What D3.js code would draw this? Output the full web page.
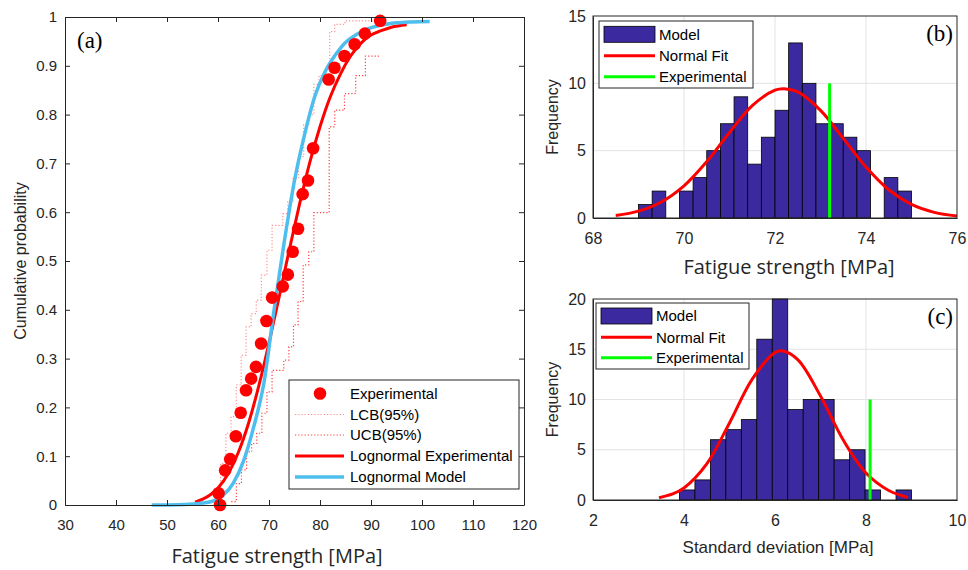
<!DOCTYPE html>
<html><head><meta charset="utf-8">
<script src="https://cdn.jsdelivr.net/npm/d3@7"></script>
<style>
body{margin:0;background:#fff}
svg{display:block}
</style>
</head><body>
<svg id="chart" width="968" height="570"></svg>
<script>
// ---------- Panel (a) data ----------
const expX = [60.4, 60.1, 61.4, 62.4, 63.5, 64.45, 65.5, 66.5, 67.45, 68.45, 69.5, 70.6, 72.7, 73.7, 74.65, 75.7, 76.6, 77.65, 78.65, 81.7, 82.85, 84.8, 86.8, 88.8, 91.8];
const expP = [0.0, 0.024, 0.071, 0.094, 0.141, 0.189, 0.235, 0.259, 0.283, 0.331, 0.377, 0.425, 0.448, 0.472, 0.519, 0.566, 0.637, 0.665, 0.731, 0.872, 0.896, 0.920, 0.944, 0.966, 0.992];

const lcbX = [59.5, 60.5, 61.55, 62.55, 63.6, 64.55, 65.5, 66.5, 67.5, 68.5, 69.6, 70.6, 72.7, 73.7, 74.7, 75.8, 76.8, 77.8, 78.8, 79.8, 81.9, 82.9, 84.9, 91.9];
const lcbP = [0.02, 0.085, 0.147, 0.181, 0.246, 0.307, 0.365, 0.392, 0.42, 0.471, 0.522, 0.573, 0.597, 0.621, 0.669, 0.714, 0.779, 0.80, 0.862, 0.88, 0.97, 0.985, 0.992, 0.992];

const ucbX = [62.6, 63.6, 64.6, 65.6, 66.6, 67.6, 68.6, 69.6, 70.6, 72.9, 73.9, 74.8, 75.7, 76.7, 77.8, 78.8, 81.8, 82.9, 84.8, 87.0, 88.9, 91.9];
const ucbP = [0.007, 0.044, 0.072, 0.109, 0.126, 0.147, 0.188, 0.232, 0.276, 0.297, 0.324, 0.369, 0.417, 0.492, 0.519, 0.599, 0.775, 0.809, 0.843, 0.88, 0.92, 0.92];

const logExpX = [55.5, 57, 58.5, 60, 62, 64, 66, 68, 70, 72, 74, 76, 78, 80, 82, 84, 86, 88, 90, 92, 94, 97];
const logExpP = [0.006, 0.012, 0.021, 0.035, 0.064, 0.108, 0.168, 0.244, 0.332, 0.427, 0.524, 0.617, 0.702, 0.775, 0.836, 0.883, 0.920, 0.946, 0.963, 0.972, 0.979, 0.984];

const logModX = [47, 52, 55, 57, 59, 61, 63, 65, 67, 69, 71, 73, 75, 77, 79, 81, 83, 85, 87, 89, 91, 93, 95, 98, 101.5];
const logModP = [0, 0.0005, 0.002, 0.004, 0.008, 0.02, 0.045, 0.09, 0.16, 0.25, 0.40, 0.54, 0.665, 0.76, 0.838, 0.888, 0.922, 0.948, 0.963, 0.974, 0.981, 0.985, 0.988, 0.99, 0.991];

const xTicksA = [30, 40, 50, 60, 70, 80, 90, 100, 110, 120];
const yTicksA = [0, 0.1, 0.2, 0.3, 0.4, 0.5, 0.6, 0.7, 0.8, 0.9, 1];
const legendA = ["Experimental", "LCB(95%)", "UCB(95%)", "Lognormal Experimental", "Lognormal Model"];

// ---------- Panel (b) data ----------
const edgesB = [69.0, 69.3, 69.6, 69.9, 70.2, 70.5, 70.8, 71.1, 71.4, 71.7, 72.0, 72.3, 72.6, 72.9, 73.2, 73.5, 73.8, 74.1, 74.4, 74.7, 75.0];
const countsB = [1, 2, 0, 2, 3, 5, 7, 9, 4, 6, 8, 13, 10, 7, 7, 6, 5, 0, 3, 2];
const fitBX = [68.5, 69.0, 69.5, 70.0, 70.5, 71.0, 71.5, 72.0, 72.2, 72.5, 73.0, 73.5, 74.0, 74.5, 75.0, 75.5, 76.0];
const fitBY = [0.19, 0.51, 1.19, 2.39, 4.19, 6.35, 8.34, 9.49, 9.6, 9.36, 7.99, 5.91, 3.79, 2.10, 1.01, 0.42, 0.15];
const expB = [73.2, 10];
const xTicksB = [68, 70, 72, 74, 76];
const yTicksB = [0, 5, 10, 15];

// ---------- Panel (c) data ----------
const edgesC = [3.90, 4.24, 4.58, 4.92, 5.26, 5.60, 5.94, 6.28, 6.62, 6.96, 7.30, 7.64, 7.98, 8.32, 8.66, 9.00];
const countsC = [1, 2, 6, 7, 8, 16, 20, 9, 10, 10, 4, 5, 1, 0, 1];
const fitCX = [3.45, 3.75, 4.0, 4.5, 5.0, 5.5, 6.0, 6.15, 6.5, 7.0, 7.5, 8.0, 8.5, 8.92];
const fitCY = [0.22, 0.6, 1.2, 3.6, 7.67, 12.02, 14.68, 14.85, 13.97, 10.35, 5.97, 2.68, 0.94, 0.25];
const expC = [8.09, 10];
const xTicksC = [2, 4, 6, 8, 10];
const yTicksC = [0, 5, 10, 15, 20];
const legendH = ["Model", "Normal Fit", "Experimental"];

// ---------- styles ----------
const AX = "#262626";
const SANS = "'Liberation Sans', Arial, sans-serif";
const HUM = "'Open Sans', 'Noto Sans', sans-serif";
const SERIF = "'Liberation Serif', 'Times New Roman', serif";
const RED = "#ff0000", BLUE = "#4dbeee", GREEN = "#00ff00", BAR = "#3b2a9f";
const LCBC = "#ff9090", UCBC = "#ff4040";

const svg = d3.select("#chart");

function styleAxis(g, fs) {
  g.attr("font-family", SANS).attr("font-size", fs);
  g.select(".domain").attr("stroke", AX).attr("stroke-width", 1);
  g.selectAll(".tick line").attr("stroke", AX);
  g.selectAll(".tick text").attr("fill", AX);
}

// ================= Panel (a) =================
const A = {l: 65, r: 524, t: 17, b: 505};
const xA = d3.scaleLinear().domain([30, 120]).range([A.l, A.r]);
const yA = d3.scaleLinear().domain([0, 1]).range([A.b, A.t]);
const gA = svg.append("g");

const stair = (xs, ps) => d3.line().x(i => xA(xs[i])).y(i => yA(ps[i])).curve(d3.curveStepAfter)(d3.range(xs.length));
gA.append("path").attr("d", stair(lcbX, lcbP)).attr("fill", "none").attr("stroke", LCBC).attr("stroke-width", 1.2).attr("stroke-dasharray", "1.2 2");
gA.append("path").attr("d", stair(ucbX, ucbP)).attr("fill", "none").attr("stroke", UCBC).attr("stroke-width", 1.2).attr("stroke-dasharray", "1.2 2");

const smooth = (xs, ps) => d3.line().x(i => xA(xs[i])).y(i => yA(ps[i])).curve(d3.curveMonotoneX)(d3.range(xs.length));
gA.append("path").attr("d", smooth(logExpX, logExpP)).attr("fill", "none").attr("stroke", RED).attr("stroke-width", 3);
gA.append("path").attr("d", smooth(logModX, logModP)).attr("fill", "none").attr("stroke", BLUE).attr("stroke-width", 3.5);

gA.selectAll("circle.exp").data(d3.range(expX.length)).join("circle")
  .attr("class", "exp").attr("cx", i => xA(expX[i])).attr("cy", i => yA(expP[i])).attr("r", 6.3).attr("fill", RED);

styleAxis(gA.append("g").attr("transform", `translate(0,${A.b})`)
  .call(d3.axisBottom(xA).tickValues(xTicksA).tickSizeInner(-5).tickSizeOuter(0).tickPadding(14)), 15);
styleAxis(gA.append("g").attr("transform", `translate(0,${A.t})`)
  .call(d3.axisTop(xA).tickValues(xTicksA).tickSizeInner(-5).tickSizeOuter(0).tickFormat(() => "")), 15);
styleAxis(gA.append("g").attr("transform", `translate(${A.l},0)`)
  .call(d3.axisLeft(yA).tickValues(yTicksA).tickSizeInner(-5).tickSizeOuter(0).tickPadding(8).tickFormat(d3.format("~g"))), 15);
styleAxis(gA.append("g").attr("transform", `translate(${A.r},0)`)
  .call(d3.axisRight(yA).tickValues(yTicksA).tickSizeInner(-5).tickSizeOuter(0).tickFormat(() => "")), 15);

gA.append("text").attr("x", 77).attr("y", 48).attr("font-family", SERIF).attr("font-size", 23).attr("fill", "#000").text("(a)");
gA.append("text").attr("x", 277).attr("y", 563).attr("text-anchor", "middle")
  .attr("font-family", HUM).attr("font-size", 20).attr("fill", AX).text("Fatigue strength [MPa]");
gA.append("text").attr("transform", `translate(20,${(A.t + A.b) / 2}) rotate(-90)`).attr("text-anchor", "middle").attr("dy", "0.35em")
  .attr("font-family", SANS).attr("font-size", 16).attr("fill", AX).text("Cumulative probability");

const LA = {x: 289, y: 380, w: 230, h: 109};
const lgA = gA.append("g");
lgA.append("rect").attr("x", LA.x).attr("y", LA.y).attr("width", LA.w).attr("height", LA.h).attr("fill", "#fff").attr("stroke", AX).attr("stroke-width", 1);
const rowsA = [393.5, 414.5, 435, 456, 477];
lgA.append("circle").attr("cx", 320).attr("cy", rowsA[0]).attr("r", 6.3).attr("fill", RED);
lgA.append("line").attr("x1", 295).attr("x2", 344).attr("y1", rowsA[1]).attr("y2", rowsA[1]).attr("stroke", LCBC).attr("stroke-width", 1.2).attr("stroke-dasharray", "1.2 2");
lgA.append("line").attr("x1", 295).attr("x2", 344).attr("y1", rowsA[2]).attr("y2", rowsA[2]).attr("stroke", UCBC).attr("stroke-width", 1.2).attr("stroke-dasharray", "1.2 2");
lgA.append("line").attr("x1", 295).attr("x2", 344).attr("y1", rowsA[3]).attr("y2", rowsA[3]).attr("stroke", RED).attr("stroke-width", 3);
lgA.append("line").attr("x1", 295).attr("x2", 344).attr("y1", rowsA[4]).attr("y2", rowsA[4]).attr("stroke", BLUE).attr("stroke-width", 3.5);
lgA.selectAll("text").data(legendA).join("text").attr("x", 350).attr("y", (d, i) => rowsA[i]).attr("dy", "0.35em")
  .attr("font-family", SANS).attr("font-size", 15).attr("fill", "#000").text(d => d);

// ================= histogram panels =================
function histPanel(P, xDom, yDom, xTicks, yTicks, edges, counts, fitX, fitY, expV, tag, tagY, xlabel, xlabelFont, xlabelSize, xlabelX, xlabelY, leg) {
  const x = d3.scaleLinear().domain(xDom).range([P.l, P.r]);
  const y = d3.scaleLinear().domain(yDom).range([P.b, P.t]);
  const g = svg.append("g");
  g.selectAll("line.gx").data(xTicks.slice(1, -1)).join("line").attr("class", "gx")
    .attr("x1", d => x(d)).attr("x2", d => x(d)).attr("y1", P.t).attr("y2", P.b).attr("stroke", "#e3e3e3").attr("stroke-width", 1);
  g.selectAll("line.gy").data(yTicks.slice(1, -1)).join("line").attr("class", "gy")
    .attr("x1", P.l).attr("x2", P.r).attr("y1", d => y(d)).attr("y2", d => y(d)).attr("stroke", "#e3e3e3").attr("stroke-width", 1);
  g.selectAll("rect.bar").data(d3.range(counts.length).filter(i => counts[i] > 0)).join("rect").attr("class", "bar")
    .attr("x", i => x(edges[i])).attr("width", i => x(edges[i + 1]) - x(edges[i]))
    .attr("y", i => y(counts[i])).attr("height", i => y(0) - y(counts[i]))
    .attr("fill", BAR).attr("stroke", "#000").attr("stroke-width", 0.8);
  g.append("path").attr("d", d3.line().x(i => x(fitX[i])).y(i => y(fitY[i])).curve(d3.curveCatmullRom)(d3.range(fitX.length)))
    .attr("fill", "none").attr("stroke", RED).attr("stroke-width", 3);
  g.append("line").attr("x1", x(expV[0])).attr("x2", x(expV[0])).attr("y1", y(0)).attr("y2", y(expV[1])).attr("stroke", GREEN).attr("stroke-width", 3);
  g.append("rect").attr("x", P.l).attr("y", P.t).attr("width", P.r - P.l).attr("height", P.b - P.t).attr("fill", "none").attr("stroke", AX).attr("stroke-width", 1);
  styleAxis(g.append("g").attr("transform", `translate(0,${P.b})`)
    .call(d3.axisBottom(x).tickValues(xTicks).tickSizeInner(0).tickSizeOuter(0).tickPadding(14.5)), 16);
  styleAxis(g.append("g").attr("transform", `translate(${P.l},0)`)
    .call(d3.axisLeft(y).tickValues(yTicks).tickSizeInner(0).tickSizeOuter(0).tickPadding(7)), 16);
  g.append("text").attr("x", 953).attr("y", tagY).attr("text-anchor", "end").attr("font-family", SERIF).attr("font-size", 23).attr("fill", "#000").text(tag);
  g.append("text").attr("x", xlabelX).attr("y", xlabelY).attr("text-anchor", "middle")
    .attr("font-family", xlabelFont).attr("font-size", xlabelSize).attr("fill", AX).text(xlabel);
  g.append("text").attr("transform", `translate(552,${(P.t + P.b) / 2}) rotate(-90)`).attr("text-anchor", "middle").attr("dy", "0.35em")
    .attr("font-family", SANS).attr("font-size", 16).attr("fill", AX).text("Frequency");
  const lg = g.append("g");
  lg.append("rect").attr("x", leg.x).attr("y", leg.y).attr("width", leg.w).attr("height", leg.h).attr("fill", "#fff").attr("stroke", AX).attr("stroke-width", 1);
  const sx1 = leg.x + 5, sx2 = leg.x + 56;
  lg.append("rect").attr("x", sx1).attr("y", leg.rows[0] - 8).attr("width", sx2 - sx1).attr("height", 16).attr("fill", BAR).attr("stroke", "#000").attr("stroke-width", 0.8);
  lg.append("line").attr("x1", sx1).attr("x2", sx2).attr("y1", leg.rows[1]).attr("y2", leg.rows[1]).attr("stroke", RED).attr("stroke-width", 3);
  lg.append("line").attr("x1", sx1).attr("x2", sx2).attr("y1", leg.rows[2]).attr("y2", leg.rows[2]).attr("stroke", GREEN).attr("stroke-width", 3);
  lg.selectAll("text").data(legendH).join("text").attr("x", sx2 + 4).attr("y", (d, i) => leg.rows[i]).attr("dy", "0.35em")
    .attr("font-family", SANS).attr("font-size", 15).attr("fill", "#000").text(d => d);
}

histPanel({l: 593, r: 957, t: 16, b: 218}, [68, 76], [0, 15], xTicksB, yTicksB, edgesB, countsB, fitBX, fitBY, expB,
  "(b)", 41, "Fatigue strength [MPa]", HUM, 20, 789, 274,
  {x: 599, y: 21, w: 154, h: 67, rows: [34.3, 55.7, 76.7]});

histPanel({l: 593, r: 957, t: 299, b: 500}, [2, 10], [0, 20], xTicksC, yTicksC, edgesC, countsC, fitCX, fitCY, expC,
  "(c)", 324, "Standard deviation [MPa]", SANS, 17, 778, 553,
  {x: 596, y: 303, w: 153, h: 66, rows: [316, 337.3, 357.7]});
</script>
</body></html>
